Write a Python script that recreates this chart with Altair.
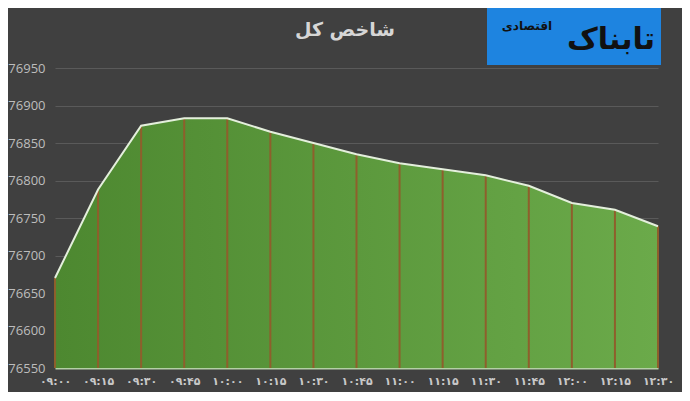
import altair as alt
import pandas as pd

times = ["۰۹:۰۰", "۰۹:۱۵", "۰۹:۳۰", "۰۹:۴۵", "۱۰:۰۰", "۱۰:۱۵", "۱۰:۳۰", "۱۰:۴۵",
         "۱۱:۰۰", "۱۱:۱۵", "۱۱:۳۰", "۱۱:۴۵", "۱۲:۰۰", "۱۲:۱۵", "۱۲:۳۰"]
values = [76670, 76788, 76873, 76883, 76883, 76865, 76850, 76835,
          76823, 76815, 76807, 76793, 76770, 76761, 76739]
y_ticks = [76550, 76600, 76650, 76700, 76750, 76800, 76850, 76900, 76950]
title_text = "شاخص کل"
logo_main = "تابناک"
logo_sub = "اقتصادی"

df = pd.DataFrame({"time": times, "value": values})

x_enc = alt.X("time:O", sort=times,
              scale=alt.Scale(type="point", padding=0),
              axis=alt.Axis(title=None, labelAngle=0, labelColor="#c8c8c8",
                            labelFont="DejaVu Sans", labelFontSize=11,
                            labelFontWeight="bold", labelOverlap=False,
                            labelPadding=7, ticks=False, domainColor="#b4cfa6",
                            domainWidth=2, grid=False))
y_scale = alt.Scale(domain=[76550, 76950], zero=False, nice=False)
y_enc = alt.Y("value:Q", scale=y_scale,
              axis=alt.Axis(title=None, values=y_ticks, format="d",
                            labelOverlap=False, labelColor="#bdbdbd",
                            labelFont="Open Sans", labelFontSize=13,
                            labelPadding=10, ticks=False, domain=False,
                            gridColor="#5a5a5a", gridWidth=1))

base = alt.Chart(df)

area = base.mark_area(
    color=alt.Gradient(gradient="linear",
                       stops=[alt.GradientStop(color="#4d8830", offset=0),
                              alt.GradientStop(color="#6baa4a", offset=1)],
                       x1=0, x2=1, y1=0, y2=0),
    opacity=1
).encode(x=x_enc, y=y_enc, y2=alt.datum(76550))

rules = base.mark_rule(color="#8e5f2c", strokeWidth=2).encode(
    x=x_enc, y=y_enc, y2=alt.datum(76550))

line = base.mark_line(color="#e4efdc", strokeWidth=2).encode(
    x=x_enc, y=y_enc)

title = alt.Chart(pd.DataFrame({"t": [title_text]})).mark_text(
    font="DejaVu Sans", fontSize=19, fontWeight="bold", color="#d6d6d6"
).encode(text="t:N", x=alt.value(290), y=alt.value(-38))

logo_box = alt.Chart(pd.DataFrame({"a": [0]})).mark_rect(color="#1e84e0").encode(
    x=alt.value(432), x2=alt.value(606), y=alt.value(-63), y2=alt.value(-3))
logo_t1 = alt.Chart(pd.DataFrame({"t": [logo_main]})).mark_text(
    font="DejaVu Sans", fontSize=30, fontWeight="bold", color="#111111",
    align="right"
).encode(text="t:N", x=alt.value(600), y=alt.value(-28))
logo_t2 = alt.Chart(pd.DataFrame({"t": [logo_sub]})).mark_text(
    font="DejaVu Sans", fontSize=12, fontWeight="bold", color="#111111"
).encode(text="t:N", x=alt.value(472), y=alt.value(-42))

chart = alt.layer(area, rules, line, title, logo_box, logo_t1, logo_t2).properties(
    width=603, height=300,
    background="#404040",
    padding={"left": 47, "top": 60, "right": 24, "bottom": 24},
    autosize=alt.AutoSizeParams(type="none"),
).configure_view(stroke=None)

chart.save("out.html", embed_options={"renderer": "svg", "actions": False})
